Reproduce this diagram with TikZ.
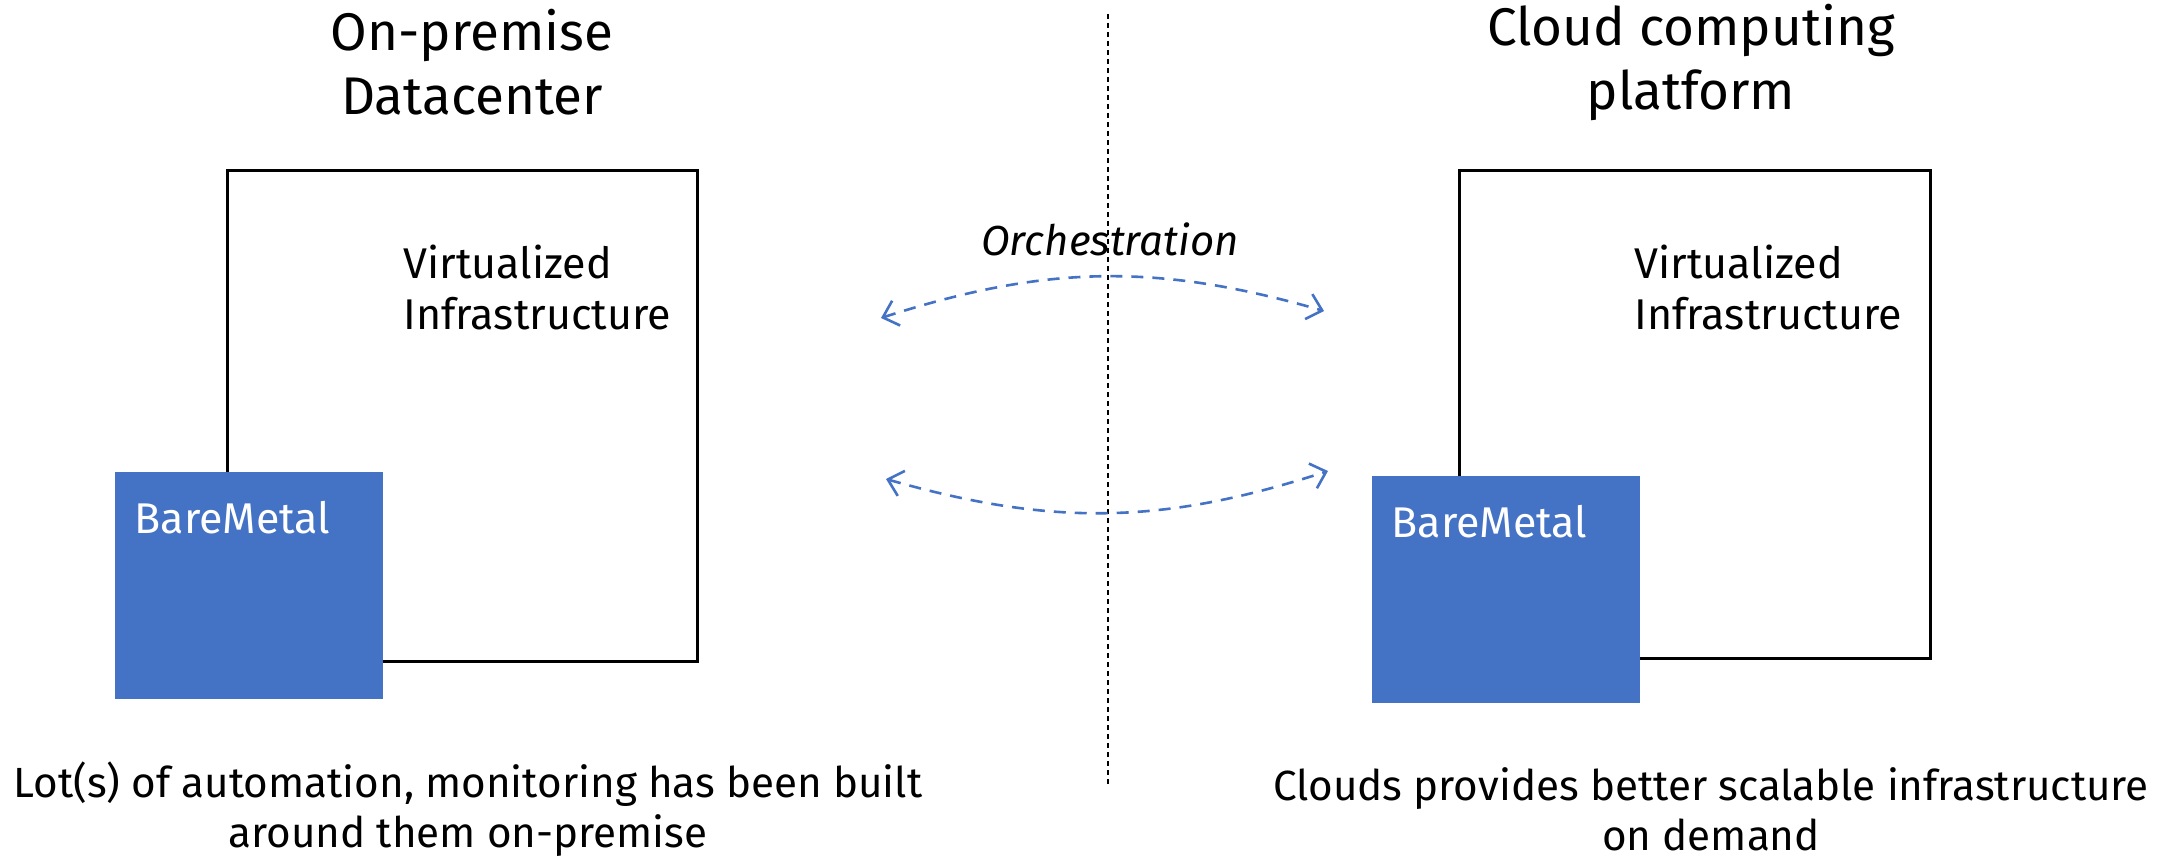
\documentclass[tikz,border=0pt]{standalone}
\usepackage{fontspec}
\setmainfont{Fira Sans}
\usetikzlibrary{arrows.meta}
\definecolor{metalblue}{HTML}{4472C4}
\tikzset{
  frame/.style={draw=black, line width=3pt, fill=white, minimum width=#1, inner sep=0pt},
  metal/.style={fill=metalblue, draw=none, inner sep=0pt, minimum width=268pt, minimum height=227pt},
  title/.style={font=\fontsize{53}{64}\selectfont, align=center},
  body/.style={font=\fontsize{43}{51}\selectfont, align=left},
  caption/.style={font=\fontsize{42.2}{50}\selectfont, align=center},
  metallabel/.style={font=\fontsize{43}{50}\selectfont, text=white, anchor=west},
  divider/.style={draw=black, line width=1.4pt, dash pattern=on 5pt off 4pt},
  sync/.style={draw=metalblue, line width=2.6pt, dash pattern=on 12pt off 9pt,
    {Straight Barb[length=14pt,width=26pt,line width=2.6pt]}-{Straight Barb[length=14pt,width=26pt,line width=2.6pt]}}
}
\begin{document}
\begin{tikzpicture}[x=1pt, y=-1pt]
  \useasboundingbox (0,0) rectangle (2178,856);

  % dividing line between the two worlds
  \coordinate (divtop) at (1108,14);
  \coordinate (divbot) at (1108,785);
  \draw[divider] (divtop) -- (divbot);

  % headings
  \node[title] (ltitle) at (472,62) {On-premise\\Datacenter};
  \node[title] (rtitle) at (1691,62) {Cloud computing\\platform};

  % on-premise stack
  \node[frame=470pt, minimum height=491pt, anchor=north west] (lvirt) at (226,169) {};
  \node[body, anchor=west] (lvirttext) at (400,287) {Virtualized\\Infrastructure};
  \node[metal, anchor=north west] (lbare) at (115,472) {};
  \node[metallabel] (lbaretext) at (131,518) {BareMetal};

  % cloud stack
  \node[frame=471pt, minimum height=488pt, anchor=north west] (rvirt) at (1458,169) {};
  \node[body, anchor=west] (rvirttext) at (1631,287) {Virtualized\\Infrastructure};
  \node[metal, anchor=north west] (rbare) at (1372,476) {};
  \node[metallabel] (rbaretext) at (1388,522) {BareMetal};

  % orchestration links
  \node[font=\fontsize{42}{50}\selectfont\itshape] (orch) at (1110,239) {Orchestration};
  \coordinate (a1) at (881,318);
  \coordinate (b1) at (1324,311);
  \coordinate (a2) at (886,479);
  \coordinate (b2) at (1328,471);
  \draw[sync] (a1) to[bend left=17] (b1);
  \draw[sync] (a2) to[bend right=17] (b2);

  % captions
  \node[caption] (lcap) at (468,809) {Lot(s) of automation, monitoring has been built\\around them on-premise};
  \node[caption] (rcap) at (1711,809) {Clouds provides better scalable infrastructure\\on demand};
\end{tikzpicture}
\end{document}
